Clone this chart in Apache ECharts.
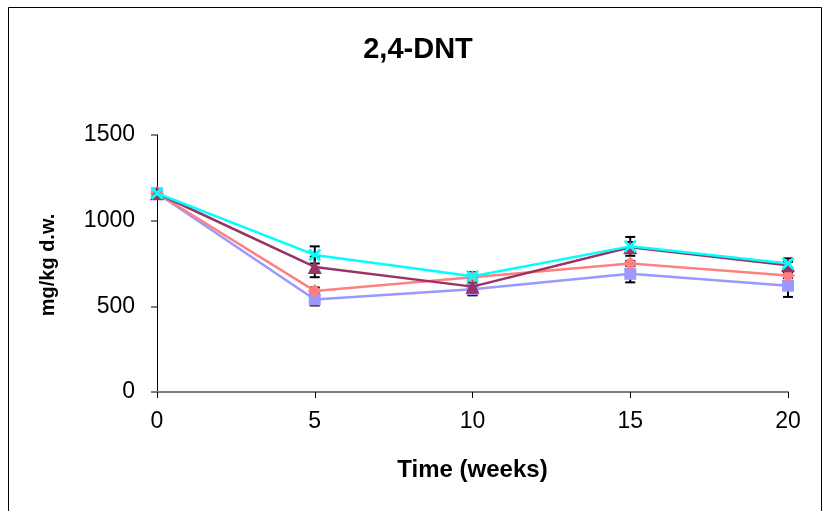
<!DOCTYPE html>
<html>
<head>
<meta charset="utf-8">
<script src="https://cdn.jsdelivr.net/npm/echarts@6/dist/echarts.min.js"></script>
<style>html,body{margin:0;padding:0;background:#fff}#c{width:824px;height:511px}</style>
</head>
<body>
<div id="c"></div>
<script>
var weeks = [0, 5, 10, 15, 20];
var seriesNames = ['A', 'B', 'C', 'D'];
var blueVals = [1160, 540, 600, 690, 620];
var blueErr = [15, 35, 35, 50, 65];
var salmonVals = [1160, 590, 670, 750, 680];
var salmonErr = [15, 20, 15, 15, 15];
var plumVals = [1160, 730, 615, 845, 740];
var plumErr = [15, 60, 50, 30, 20];
var cyanVals = [1160, 800, 675, 850, 750];
var cyanErr = [15, 50, 25, 55, 30];
var yTicks = [0, 500, 1000, 1500];
var xTicks = [0, 5, 10, 15, 20];

var FONT = 'Liberation Sans, Arial, sans-serif';
var xShape = 'path://M0,1.5 L1.5,0 L5,3.5 L8.5,0 L10,1.5 L6.5,5 L10,8.5 L8.5,10 L5,6.5 L1.5,10 L0,8.5 L3.5,5 Z';

function pairs(vals) { return weeks.map(function (w, i) { return [w, vals[i]]; }); }
function errData(vals, errs) { return weeks.map(function (w, i) { return [w, vals[i] - errs[i], vals[i] + errs[i]]; }); }

function errSeries(vals, errs) {
  return {
    type: 'custom',
    data: errData(vals, errs),
    z: 1,
    renderItem: function (params, api) {
      var x = api.value(0);
      var lo = api.coord([x, api.value(1)]);
      var hi = api.coord([x, api.value(2)]);
      var hw = 5;
      var st = { stroke: '#000', lineWidth: 2 };
      return {
        type: 'group',
        children: [
          { type: 'line', shape: { x1: lo[0], y1: lo[1], x2: hi[0], y2: hi[1] }, style: st },
          { type: 'line', shape: { x1: lo[0] - hw, y1: lo[1], x2: lo[0] + hw, y2: lo[1] }, style: st },
          { type: 'line', shape: { x1: hi[0] - hw, y1: hi[1], x2: hi[0] + hw, y2: hi[1] }, style: st }
        ]
      };
    }
  };
}

function lineSeries(name, vals, color, symbol, size, z) {
  return {
    name: name, type: 'line', data: pairs(vals), z: z,
    symbol: symbol, symbolSize: size, showSymbol: true,
    lineStyle: { color: color, width: 2.5 },
    itemStyle: { color: color, borderWidth: 0 },
    animation: false
  };
}

var chart = echarts.init(document.getElementById('c'), null, { renderer: 'canvas' });
chart.setOption({
  animation: false,
  backgroundColor: '#fff',
  title: {
    text: '2,4-DNT', left: 413, top: 30, textAlign: 'center',
    textStyle: { fontFamily: FONT, fontSize: 29, fontWeight: 'bold', color: '#000' }
  },
  grid: { left: 157, right: 36, top: 135, bottom: 119 },
  xAxis: {
    type: 'value', min: 0, max: 20, interval: 5,
    name: 'Time (weeks)', nameLocation: 'middle', nameGap: 66,
    nameTextStyle: { fontFamily: FONT, fontSize: 24, fontWeight: 'bold', color: '#000' },
    axisLine: { show: true, onZero: false, lineStyle: { color: '#808080', width: 2 } },
    axisTick: { show: true, inside: false, length: 6, lineStyle: { color: '#000', width: 1 } },
    axisLabel: { fontFamily: FONT, fontSize: 23, color: '#000', margin: 18,
      formatter: function (v) { return xTicks.indexOf(v) >= 0 ? String(v) : ''; } },
    splitLine: { show: false }
  },
  yAxis: {
    type: 'value', min: 0, max: 1500, interval: 500,
    axisLine: { show: true, lineStyle: { color: '#000', width: 1 } },
    axisTick: { show: true, inside: false, length: 6, lineStyle: { color: '#808080', width: 2 } },
    axisLabel: { fontFamily: FONT, fontSize: 23, color: '#000', margin: 22,
      formatter: function (v) { return yTicks.indexOf(v) >= 0 ? String(v) : ''; } },
    splitLine: { show: false }
  },
  graphic: [{
    type: 'rect', z: 100, silent: true,
    shape: { x: 8.5, y: 7.5, width: 813, height: 520 },
    style: { fill: 'none', stroke: '#000', lineWidth: 1 }
  }, {
    type: 'text', x: 48, y: 265, rotation: Math.PI / 2, z: 100,
    style: { text: 'mg/kg d.w.', fontFamily: FONT, fontSize: 20, fontWeight: 'bold', fill: '#000',
      align: 'center', verticalAlign: 'middle' }
  }],
  series: [
    errSeries(blueVals, blueErr),
    errSeries(salmonVals, salmonErr),
    errSeries(plumVals, plumErr),
    errSeries(cyanVals, cyanErr),
    lineSeries(seriesNames[0], blueVals, '#9999FF', 'rect', 12, 2),
    lineSeries(seriesNames[1], salmonVals, '#FF8080', 'diamond', 14, 3),
    lineSeries(seriesNames[2], plumVals, '#993366', 'triangle', 14, 4),
    lineSeries(seriesNames[3], cyanVals, '#00FFFF', xShape, 13, 5)
  ]
});
</script>
</body>
</html>
